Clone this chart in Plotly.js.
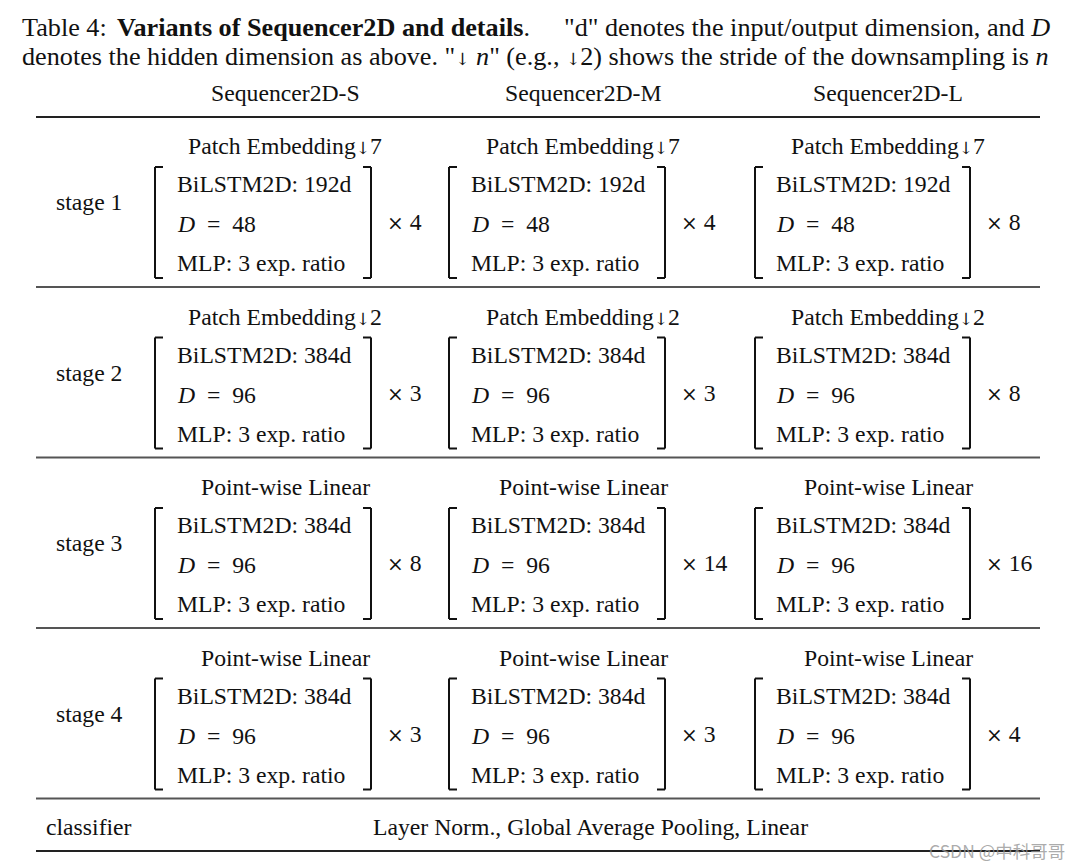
<!DOCTYPE html>
<html>
<head>
<meta charset="utf-8">
<script src="https://cdn.plot.ly/plotly-3.0.1.min.js"></script>
<style>html,body{margin:0;padding:0;background:#fff}</style>
</head>
<body>
<div id="chart" style="width:1080px;height:868px"></div>
<script>
// ---- table content ----
const ARROW = '<span style="font-family:DejaVu Serif;font-size:17px;color:#111">↓</span>';
const captionLabel = 'Table 4:';
const captionBold = '<b>Variants of Sequencer2D and details</b>.';
const captionRest = '"d" denotes the input/output dimension, and <i>D</i>';
const captionLine2 = 'denotes the hidden dimension as above. "' + ARROW + ' <i>n</i>" (e.g., ' + ARROW + '2) shows the stride of the downsampling is <i>n</i>';
const variants = ['Sequencer2D-S', 'Sequencer2D-M', 'Sequencer2D-L'];
const stages = ['stage 1', 'stage 2', 'stage 3', 'stage 4'];
const downsampling = ['Patch Embedding' + ARROW + '7', 'Patch Embedding' + ARROW + '2', 'Point-wise Linear', 'Point-wise Linear'];
const bilstmDims = [192, 384, 384, 384];
const hiddenDims = [48, 96, 96, 96];
const mlpRatios = [3, 3, 3, 3];
const depthS = [4, 3, 8, 3];
const depthM = [4, 3, 14, 3];
const depthL = [8, 8, 16, 4];
const classifierLabel = 'classifier';
const classifierText = 'Layer Norm., Global Average Pooling, Linear';
const watermark = 'CSDN @中科哥哥';

// ---- layout geometry ----
const depths = [depthS, depthM, depthL];
const FONT = 'Liberation Serif, Times New Roman, serif';
const TXT = '#111';
const FS = 23.7;
const CAP1 = 26.2;
const CAP2 = 26.2;
const colCenter = [285, 583, 888];
const colText = [176, 470, 775];
const brL = [155, 449, 755];
const brR = [371, 665, 970];
const timesX = [386, 680, 985];
const stageTop = 146, stagePitch = 170.5;
const ruleL = 36, ruleR = 1040;

const ann = [];
const shapes = [];
function txt(x, y, text, anchor, size, color, family) {
  ann.push({x: x, y: y, xref: 'x', yref: 'y', text: text, showarrow: false,
    xanchor: anchor || 'left', yanchor: 'middle', borderpad: 0,
    font: {family: family || FONT, size: size || FS, color: color || TXT}});
}
function line(x0, y0, x1, y1, w, c) {
  shapes.push({type: 'line', xref: 'x', yref: 'y', x0: x0, y0: y0, x1: x1, y1: y1,
    line: {color: c, width: w}});
}

txt(21, 27, captionLabel, 'left', CAP1);
txt(116, 27, captionBold, 'left', CAP1);
txt(1051, 27, captionRest, 'right', CAP1);
txt(21, 56, captionLine2, 'left', CAP2);
variants.forEach((v, j) => txt(colCenter[j], 93, v, 'center', FS));
line(ruleL, 117, ruleR, 117, 2.2, '#222');

stages.forEach((s, k) => {
  const y0 = stageTop + stagePitch * k;
  txt(55, y0 + 56, s, 'left', FS);
  for (let j = 0; j < 3; j++) {
    txt(colCenter[j], y0, downsampling[k], 'center', FS);
    txt(colText[j], y0 + 38, 'BiLSTM2D: ' + bilstmDims[k] + 'd', 'left', FS);
    txt(colText[j], y0 + 78, '<i>D</i>\u2002=\u2002' + hiddenDims[k], 'left', FS);
    txt(colText[j], y0 + 117, 'MLP: ' + mlpRatios[k] + ' exp. ratio', 'left', FS);
    txt(timesX[j], y0 + 76, '<span style="font-family:DejaVu Serif;font-size:20px">×</span> ' + depths[j][k], 'left', FS);
    const bt = y0 + 21, bb = y0 + 132;
    // left bracket
    line(brL[j], bt, brL[j], bb, 2, '#111');
    line(brL[j], bt, brL[j] + 8, bt, 2, '#111');
    line(brL[j], bb, brL[j] + 8, bb, 2, '#111');
    // right bracket
    line(brR[j], bt, brR[j], bb, 2, '#111');
    line(brR[j] - 8, bt, brR[j], bt, 2, '#111');
    line(brR[j] - 8, bb, brR[j], bb, 2, '#111');
  }
  line(ruleL, 287 + stagePitch * k, ruleR, 287 + stagePitch * k, 2, '#555');
});

txt(45, 827, classifierLabel, 'left', FS);
txt(590, 827, classifierText, 'center', FS);
line(ruleL, 851, ruleR, 851, 2.2, '#222');
txt(1066, 850, watermark, 'right', 17.5, 'rgba(150,150,150,0.8)', 'Noto Sans CJK SC, Noto Sans, sans-serif');

const layout = {
  width: 1080, height: 868,
  margin: {l: 0, r: 0, t: 0, b: 0, pad: 0},
  paper_bgcolor: '#fff', plot_bgcolor: '#fff',
  showlegend: false,
  xaxis: {range: [0, 1080], visible: false, fixedrange: true},
  yaxis: {range: [868, 0], visible: false, fixedrange: true},
  annotations: ann,
  shapes: shapes
};
Plotly.newPlot('chart', [{x: [], y: [], type: 'scatter', mode: 'markers', hoverinfo: 'skip'}], layout, {staticPlot: true, displayModeBar: false});
</script>
</body>
</html>
